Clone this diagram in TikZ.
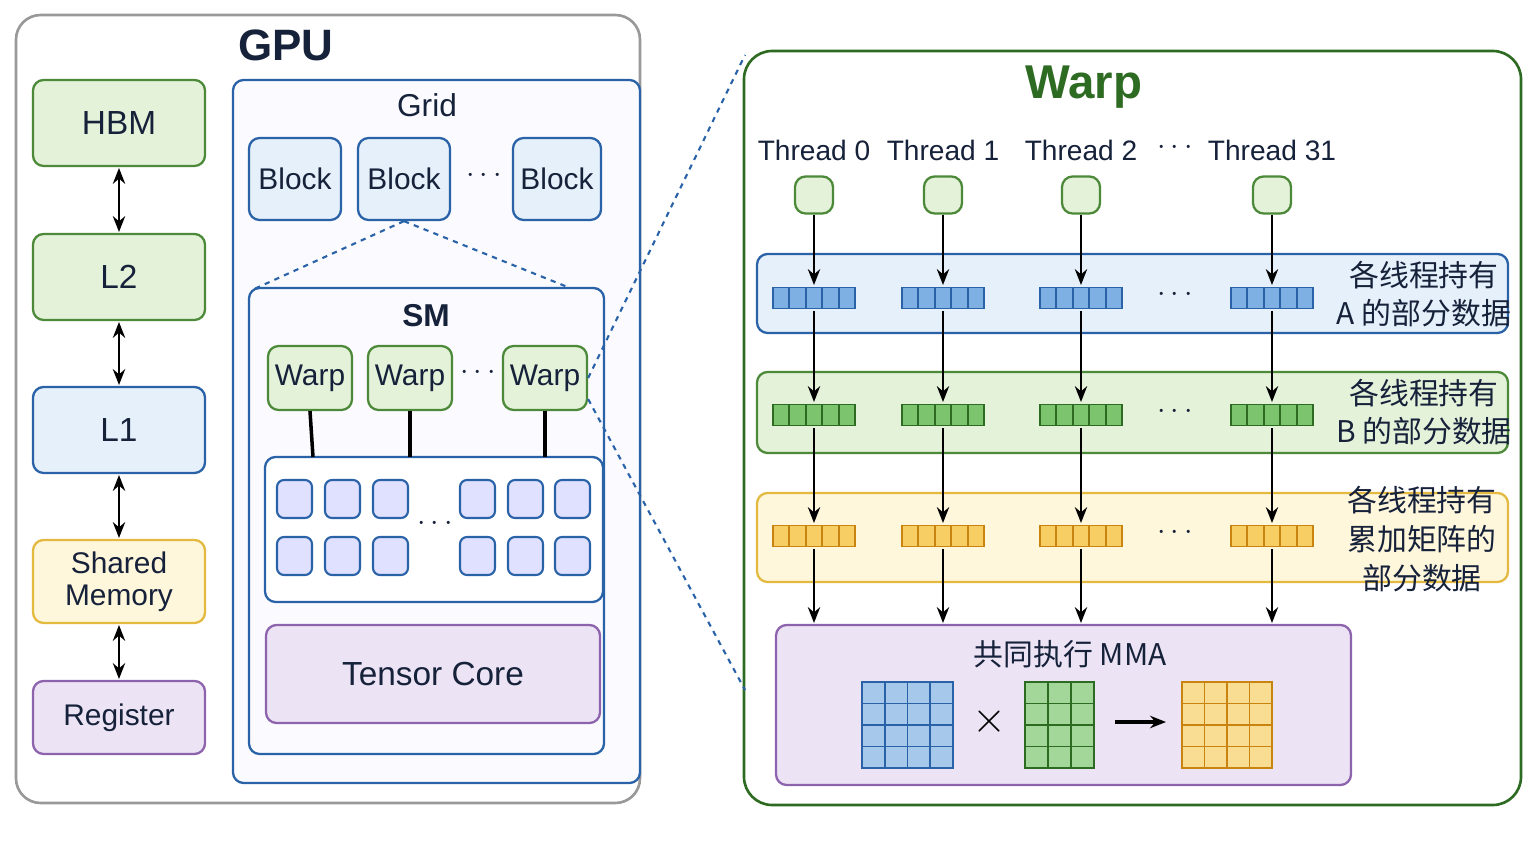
\documentclass[tikz,border=0pt]{standalone}
\usepackage{fontspec}
\setmainfont{Liberation Sans}
\newfontfamily\cjk{Noto Sans CJK SC}
\usetikzlibrary{arrows.meta,positioning}
\definecolor{gblue}{HTML}{2A62A8}
\definecolor{lblue}{HTML}{E6F0FA}
\definecolor{cblue}{HTML}{7FB0E3}
\definecolor{ggreen}{HTML}{4C8A3A}
\definecolor{lgreen}{HTML}{E5F2DA}
\definecolor{cgreen}{HTML}{7CC46E}
\definecolor{dgreen}{HTML}{2E6B22}
\definecolor{gyell}{HTML}{E3B940}
\definecolor{lyell}{HTML}{FFF7DC}
\definecolor{cyell}{HTML}{F6CE63}
\definecolor{dyell}{HTML}{C8840F}
\definecolor{gpurp}{HTML}{8E63AE}
\definecolor{lpurp}{HTML}{ECE3F4}
\definecolor{gtext}{HTML}{16213A}
\tikzset{
  box/.style={draw, rounded corners=6pt, line width=1.3pt, inner sep=0pt, text=gtext},
  greenbox/.style={box, draw=ggreen, fill=lgreen},
  bluebox/.style={box, draw=gblue, fill=lblue},
  yellbox/.style={box, draw=gyell, fill=lyell},
  purpbox/.style={box, draw=gpurp, fill=lpurp},
  lbl/.style={font=\fontsize{17}{20}\selectfont, text=gtext, align=center},
  arr/.style={-{Stealth[length=9pt,width=7pt]}, line width=1.2pt, black},
  dbl/.style={{Stealth[length=9pt,width=7pt]}-{Stealth[length=9pt,width=7pt]}, line width=1.4pt, black},
  dashline/.style={dashed, gblue, line width=1.2pt},
}
\begin{document}
\begin{tikzpicture}[x=0.02cm, y=-0.02cm]
  \useasboundingbox (0,0) rectangle (1536,864);

  % GPU
  \draw[rounded corners=14pt, line width=1.5pt, draw=gray!80, fill=white] (16,15) rectangle (640,803);
  \node[font=\fontsize{25}{28}\selectfont\bfseries, text=gtext] (gputitle) at (286,45) {GPU};

  % memory hierarchy
  \draw[greenbox] (33,80) rectangle (205,166);
  \node[lbl, font=\fontsize{19}{22}\selectfont] (hbm) at (119,123) {HBM};
  \draw[greenbox] (33,234) rectangle (205,320);
  \node[lbl, font=\fontsize{19}{22}\selectfont] (l2) at (119,277) {L2};
  \draw[bluebox] (33,387) rectangle (205,473);
  \node[lbl, font=\fontsize{19}{22}\selectfont] (l1) at (119,430) {L1};
  \draw[yellbox] (33,540) rectangle (205,623);
  \node[lbl] (shm) at (119,582) {Shared\\[-2pt]Memory};
  \draw[purpbox] (33,681) rectangle (205,754);
  \node[lbl] (reg) at (119,718) {Register};
  \coordinate (m1) at (119,168); \coordinate (m2) at (119,232);
  \coordinate (m3) at (119,322); \coordinate (m4) at (119,385);
  \coordinate (m5) at (119,475); \coordinate (m6) at (119,538);
  \coordinate (m7) at (119,625); \coordinate (m8) at (119,679);
  \foreach \a/\b in {m1/m2,m3/m4,m5/m6,m7/m8}
    \draw[dbl] (\a) -- (\b);

  % Grid
  \draw[bluebox, fill=blue!2] (233,80) rectangle (640,783);
  \node[lbl, font=\fontsize{18}{21}\selectfont] (grid) at (427,105) {Grid};
  \foreach \x/\w [count=\i] in {295/92,404/92,557/88}{
    \node[bluebox, minimum width=\w*0.02cm, minimum height=1.64cm, lbl] (blk\i) at (\x,179) {Block};
  }
  \node[lbl] (bdots) at (484,176) {$\cdots$};
  \coordinate (smtl) at (252,290);
  \coordinate (smtr) at (570,288);
  \draw[dashline] (blk2.south) -- (smtl);
  \draw[dashline] (blk2.south) -- (smtr);

  % SM
  \draw[bluebox, fill=blue!2] (249,288) rectangle (604,754);
  \node[lbl, font=\fontsize{18}{21}\selectfont\bfseries] (sm) at (426,316) {SM};
  \node[greenbox, minimum width=1.68cm, minimum height=1.28cm, lbl] (w1) at (310,378) {Warp};
  \node[greenbox, minimum width=1.68cm, minimum height=1.28cm, lbl] (w2) at (410,378) {Warp};
  \node[greenbox, minimum width=1.68cm, minimum height=1.28cm, lbl] (w3) at (545,378) {Warp};
  \node[lbl] (wdots) at (478,373) {$\cdots$};
  \draw[bluebox, fill=white] (265,457) rectangle (603,602);
  \foreach \w/\x in {w1/313,w2/410,w3/545}{
    \coordinate (c\w) at (\x,457);
    \draw[line width=2pt, black] (\w.south) -- (c\w);
  }
  \foreach \x in {277,325,373,460,508,555}
    \foreach \y in {480,537}
      \draw[draw=gblue, fill=blue!12, rounded corners=4pt, line width=1.2pt] (\x,\y) rectangle ++(35,38);
  \node[lbl] (cdots) at (435,524) {$\cdots$};
  \draw[purpbox] (266,625) rectangle (600,723);
  \node[lbl, font=\fontsize{19}{22}\selectfont] (tc) at (433,674) {Tensor Core};

  % Warp panel
  \draw[rounded corners=16pt, line width=1.5pt, draw=dgreen, fill=white] (744,51) rectangle (1521,805);
  \node[font=\fontsize{27}{30}\selectfont\bfseries, text=dgreen] (wtitle) at (1084,87) {Warp};
  \coordinate (p1) at (745,55);
  \coordinate (p2) at (745,690);
  \draw[dashline] (w3.east) -- (p1);
  \draw[dashline] ([yshift=-12pt]w3.east) -- (p2);

  % bands
  \draw[bluebox, fill=lblue] (757,254) rectangle (1508,333);
  \draw[greenbox] (757,372) rectangle (1508,453);
  \draw[yellbox] (757,493) rectangle (1508,582);
  \node[lbl, font=\cjk\fontsize{17}{22}\selectfont] (la) at (1424,294) {各线程持有\\A 的部分数据};
  \node[lbl, font=\cjk\fontsize{17}{22}\selectfont] (lb) at (1424,412) {各线程持有\\B 的部分数据};
  \node[lbl, font=\cjk\fontsize{17}{22}\selectfont] (lc) at (1422,539) {各线程持有\\累加矩阵的\\部分数据};

  % MMA
  \draw[purpbox] (776,625) rectangle (1351,785);
  \node[lbl, font=\cjk\fontsize{17}{20}\selectfont] (mma) at (1070,654) {共同执行 MMA};

  % threads
  \foreach \x/\n [count=\i] in {814/0,943/1,1081/2,1272/31}{
    \node[lbl, font=\fontsize{16}{19}\selectfont] (tl\i) at (\x,150) {Thread \n};
    \node[greenbox, minimum width=0.76cm, minimum height=0.74cm] (t\i) at (\x,195) {};
    \foreach \r/\y/\cd/\cf in {a/298/gblue/cblue, b/415/dgreen/cgreen, c/536/dyell/cyell}{
      \foreach \k in {0,...,4}
        \draw[draw=\cd, fill=\cf, line width=1.1pt] (\x-41+\k*16.4,\y-10.5) rectangle ++(16.4,21);
      \coordinate (\r\i n) at (\x,\y-13);
      \coordinate (\r\i s) at (\x,\y+13);
    }
    \coordinate (e\i) at (\x,623);
    \draw[arr] (t\i.south) -- (a\i n);
    \draw[arr] (a\i s) -- (b\i n);
    \draw[arr] (b\i s) -- (c\i n);
    \draw[arr] (c\i s) -- (e\i);
  }
  \node[lbl] (tdots) at (1175,148) {$\cdots$};
  \foreach \y in {295,412,533}
    \node[lbl] at (1175,\y) {$\cdots$};

  % matrices
  \foreach \x/\nc/\cw/\cd/\cf in {862/4/22.75/gblue/cblue, 1025/3/23/dgreen/cgreen, 1182/4/22.5/dyell/cyell}
    \foreach \i in {1,...,\nc}
      \foreach \j in {1,...,4}
        \draw[draw=\cd, fill=\cf!70, line width=1.1pt] (\x+\i*\cw-\cw,682+\j*21.5-21.5) rectangle ++(\cw,21.5);
  \node[font=\fontsize{26}{28}\selectfont] (times) at (989,722) {$\times$};
  \coordinate (ra) at (1115,722);
  \coordinate (rb) at (1166,722);
  \draw[arr, line width=2pt] (ra) -- (rb);
\end{tikzpicture}
\end{document}
